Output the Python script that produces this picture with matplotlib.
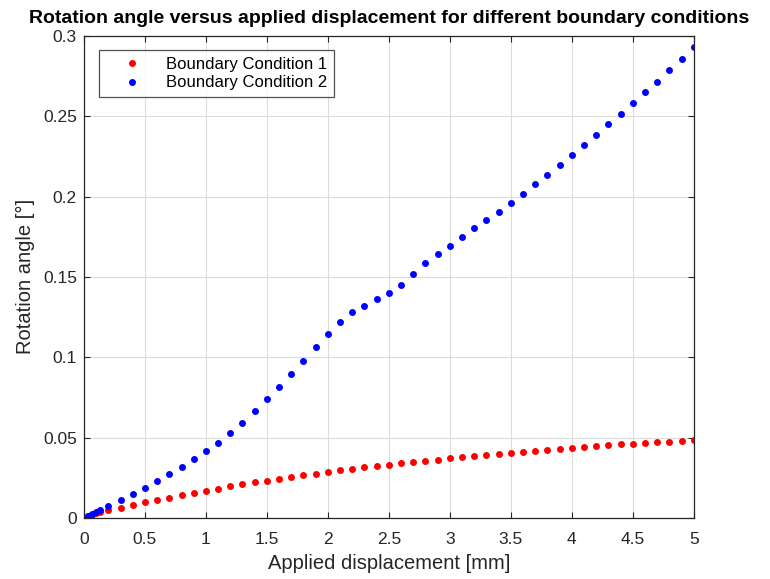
import matplotlib
matplotlib.use("Agg")
import matplotlib.pyplot as plt
import numpy as np

plt.rcParams['font.family'] = ['Liberation Sans', 'DejaVu Sans']

# applied displacement [mm]
disp = [0, 0.033, 0.067, 0.1, 0.133,
        0.2, 0.3, 0.4, 0.5, 0.6, 0.7, 0.8, 0.9, 1.0,
        1.1, 1.2, 1.3, 1.4, 1.5, 1.6, 1.7, 1.8, 1.9, 2.0,
        2.1, 2.2, 2.3, 2.4, 2.5, 2.6, 2.7, 2.8, 2.9, 3.0,
        3.1, 3.2, 3.3, 3.4, 3.5, 3.6, 3.7, 3.8, 3.9, 4.0,
        4.1, 4.2, 4.3, 4.4, 4.5, 4.6, 4.7, 4.8, 4.9, 5.0]

# rotation angle [deg], boundary condition 1
rot_bc1 = [0, 0.001, 0.002, 0.003, 0.0038,
           0.0052, 0.0065, 0.008, 0.0097, 0.0111, 0.0126, 0.014, 0.0155, 0.0169,
           0.0182, 0.0196, 0.0209, 0.0221, 0.0232, 0.0242, 0.0254, 0.0265, 0.0275, 0.0285,
           0.0296, 0.0304, 0.0315, 0.0323, 0.0331, 0.034, 0.0348, 0.0356, 0.0363, 0.0373,
           0.0379, 0.0388, 0.0394, 0.04, 0.0406, 0.0413, 0.0419, 0.0425, 0.0431, 0.0437,
           0.0441, 0.0447, 0.0452, 0.0458, 0.0462, 0.0466, 0.0471, 0.0475, 0.0479, 0.0483]

# rotation angle [deg], boundary condition 2
rot_bc2 = [0, 0.0012, 0.0024, 0.0037, 0.0047,
           0.0074, 0.0111, 0.0148, 0.0188, 0.0227, 0.0271, 0.0316, 0.0364, 0.0414,
           0.0468, 0.0528, 0.0592, 0.0663, 0.0738, 0.0815, 0.0895, 0.0978, 0.1061, 0.1145,
           0.1221, 0.1281, 0.1322, 0.136, 0.1399, 0.1447, 0.1517, 0.1584, 0.164, 0.1694,
           0.1747, 0.1802, 0.1853, 0.1907, 0.1963, 0.2019, 0.2077, 0.2137, 0.2197, 0.2258,
           0.232, 0.2385, 0.2449, 0.2515, 0.2581, 0.2648, 0.2716, 0.2785, 0.2855, 0.2928]

fig = plt.figure(figsize=(7.7, 5.79), dpi=100)
ax = fig.add_axes([0.109, 0.1054, 0.792, 0.8326])

ax.plot(disp, rot_bc1, 'o', color='#ff0000', markersize=5, markeredgewidth=0,
        label='Boundary Condition 1')
ax.plot(disp, rot_bc2, 'o', color='#0000ff', markersize=5, markeredgewidth=0,
        label='Boundary Condition 2')

ax.set_xlim(0, 5)
ax.set_ylim(0, 0.3)
ax.set_xticks(np.arange(0, 5.01, 0.5))
ax.set_xticklabels(['0', '0.5', '1', '1.5', '2', '2.5', '3', '3.5', '4', '4.5', '5'])
ax.set_yticks(np.arange(0, 0.301, 0.05))
ax.set_yticklabels(['0', '0.05', '0.1', '0.15', '0.2', '0.25', '0.3'])

ax.grid(True, color='#dcdcdc', linewidth=0.8)
ax.set_axisbelow(True)
ax.tick_params(direction='in', top=True, right=True, length=4, labelsize=12.5,
               colors='#262626', width=0.8)
ax.tick_params(axis='x', pad=10)
ax.tick_params(axis='y', pad=5)
for sp in ax.spines.values():
    sp.set_color('#262626')
    sp.set_linewidth(0.9)

ax.set_xlabel('Applied displacement [mm]', fontsize=14.5, color='#262626', labelpad=5)
ax.set_ylabel('Rotation angle [°]', fontsize=14.5, color='#262626', labelpad=6)
ax.set_title('Rotation angle versus applied displacement for different boundary conditions',
             fontsize=14, fontweight='bold', pad=9)

leg = ax.legend(loc='upper left', bbox_to_anchor=(0.0246, 0.97), fontsize=12,
                frameon=True, fancybox=False, edgecolor='#262626', borderpad=0.4,
                handletextpad=0.4, labelspacing=0.2, handlelength=3.2, borderaxespad=0)
leg.get_frame().set_linewidth(0.9)

fig.savefig('out.png', dpi=100)
